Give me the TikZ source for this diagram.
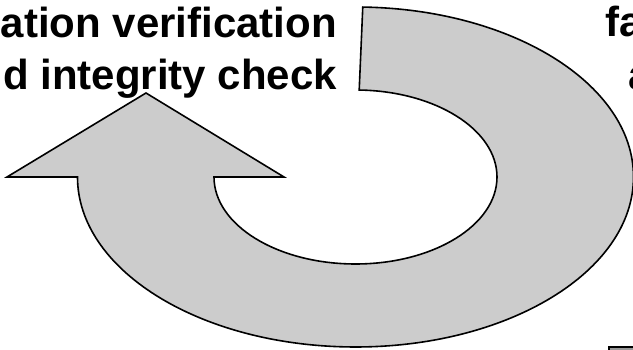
\documentclass[tikz,border=0pt]{standalone}
\usepackage{fontspec}
\setmainfont{Liberation Sans}
\tikzset{
    etichetta/.style={font=\bfseries\fontsize{42}{50}\selectfont, inner sep=0pt},
    freccia/.style={fill=black!20, draw=black, line width=1.6pt, line join=miter}
}
\begin{document}
\begin{tikzpicture}[x=1pt,y=1pt]
        % Cornice della figura
        \useasboundingbox (0,0) rectangle (633,350);
        \clip (0,0) rectangle (633,350);

        % Disegna la freccia circolare
        \filldraw[freccia] (355.5,173) ++(88.5:278 and 170)
            arc[start angle=88.5, end angle=-180, x radius=278, y radius=170]
            -- (7,173) -- (146,257) -- (284,173) -- (214,173)
            arc[start angle=180, end angle=448.5, x radius=141.5, y radius=87]
            -- cycle;

        % Testi
        \node[etichetta, anchor=base east] (verifica) at (337,312) {ation verification};
        \node[etichetta, anchor=base east] (integrita) at (337,260) {d integrity check};
        \node[etichetta, anchor=base west] (fa) at (605,313) {fa};
        \node[etichetta, anchor=base west] (a) at (628,260) {a};

        % Riquadro in basso a destra
        \filldraw[fill=black!40, line width=1.6pt] (609,-30) rectangle (680,3);
    \end{tikzpicture}
\end{document}
